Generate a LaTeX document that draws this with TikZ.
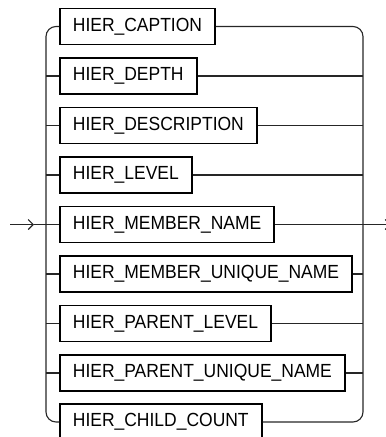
\documentclass[tikz,border=0pt]{standalone}
\usepackage{fontspec}
\setmainfont{Liberation Sans}[FakeStretch=0.92]
\usetikzlibrary{arrows.meta}
\begin{document}
\begin{tikzpicture}[x=1pt,y=-1pt,
  box/.style={draw=black, line width=1.8pt, anchor=west, minimum height=36pt,
    inner xsep=13pt, inner ysep=0pt, font=\fontsize{19}{22}\selectfont},
  conn/.style={line width=1.1pt, draw=black!85},
  tip/.style={-{Straight Barb[length=5pt,width=10pt,line width=1.1pt]}}]
\useasboundingbox (0,0) rectangle (386,437);
\node[box] (b1) at (59,26.5) {HIER\_CAPTION};
\node[box] (b2) at (59,76) {HIER\_DEPTH};
\node[box] (b3) at (59,125.5) {HIER\_DESCRIPTION};
\node[box] (b4) at (59,175) {HIER\_LEVEL};
\node[box] (b5) at (59,224.5) {HIER\_MEMBER\_NAME};
\node[box] (b6) at (59,274) {HIER\_MEMBER\_UNIQUE\_NAME};
\node[box] (b7) at (59,323.5) {HIER\_PARENT\_LEVEL};
\node[box] (b8) at (59,373) {HIER\_PARENT\_UNIQUE\_NAME};
\node[box] (b9) at (59,422) {HIER\_CHILD\_COUNT};
\coordinate (lt) at (46,26.5);
\coordinate (lb) at (46,422);
\coordinate (rt) at (363,26.5);
\coordinate (rb) at (363,422);
\coordinate (in) at (10,224.5);
\coordinate (inarr) at (34,224.5);
\coordinate (out) at (391,224.5);
% rails
\draw[conn, rounded corners=10pt] (b1.west) -- (lt) -- (lb) -- (b9.west);
\draw[conn, rounded corners=10pt] (b1.east) -- (rt) -- (rb) -- (b9.east);
\foreach \i in {2,...,8} {
  \draw[conn] (lt |- b\i.west) -- (b\i.west);
  \draw[conn] (b\i.east) -- (rt |- b\i.east);
}
% entry and exit
\draw[conn, tip] (in) -- (inarr);
\draw[conn] (inarr) -- (b5.west);
\draw[conn, tip] (b5.east) -- (out);
\end{tikzpicture}
\end{document}
